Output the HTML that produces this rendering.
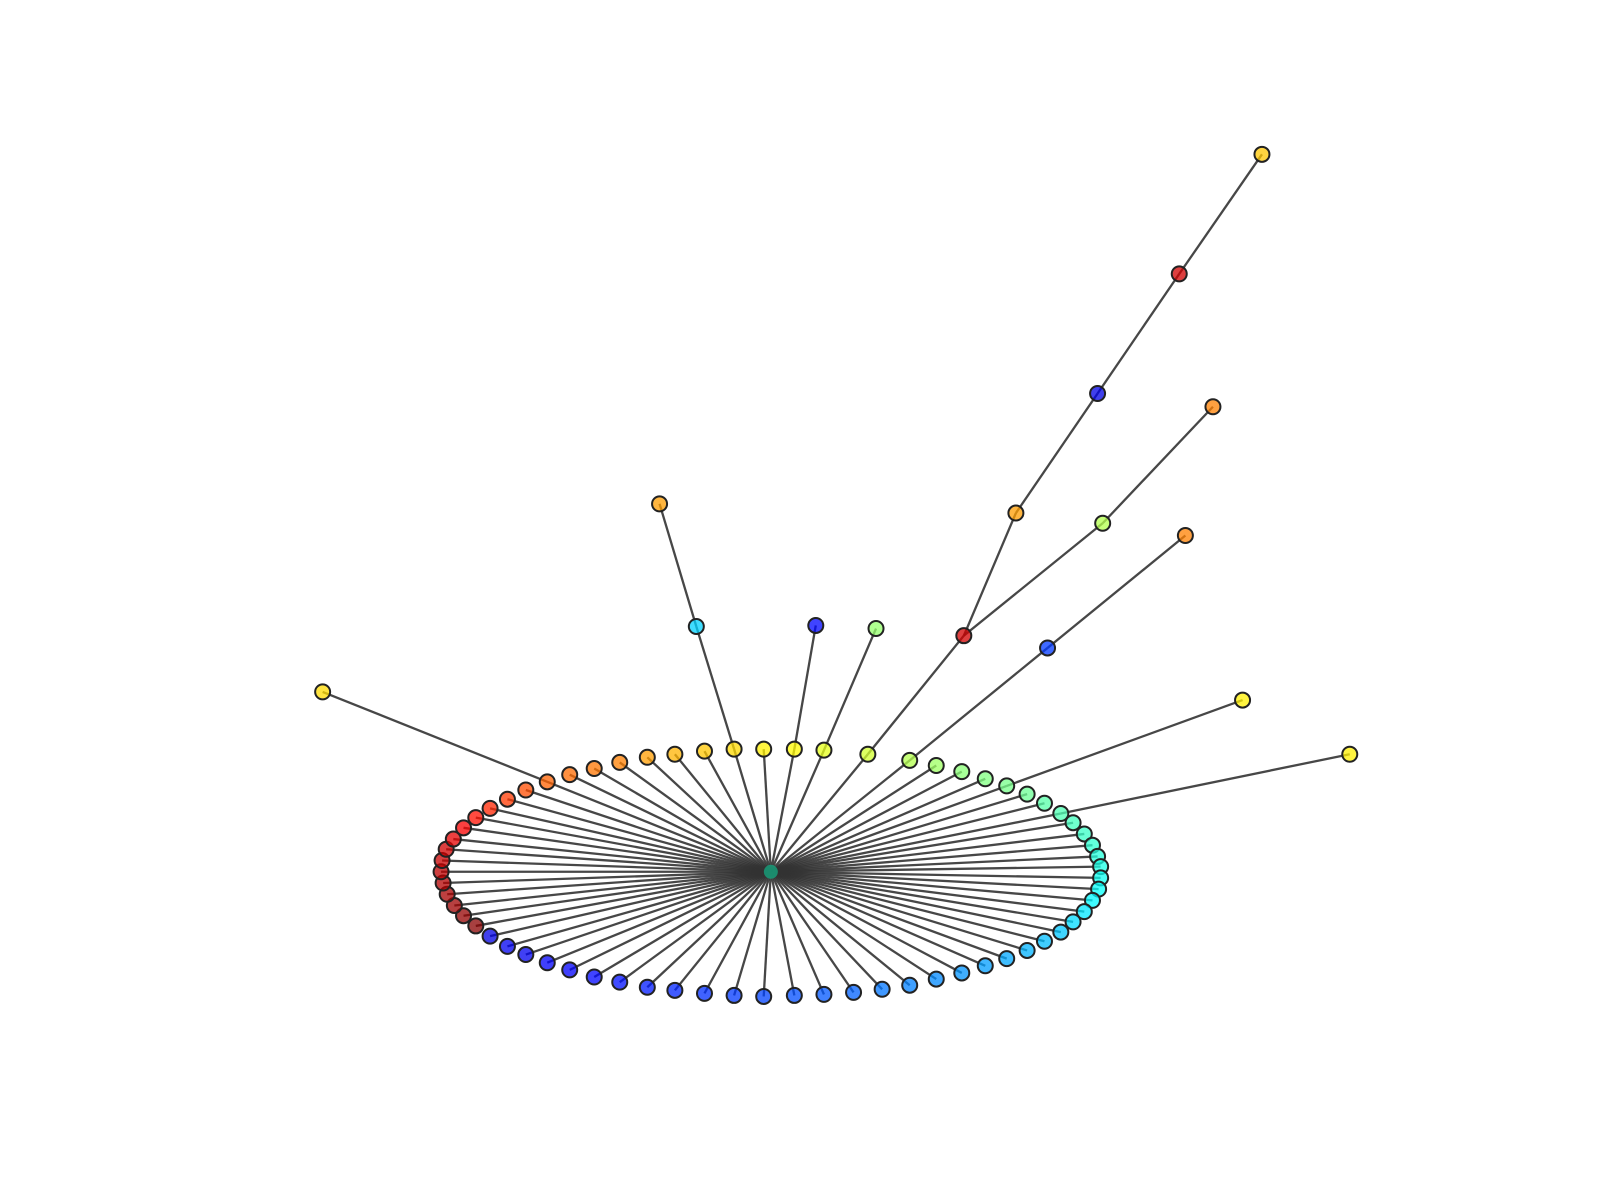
<!DOCTYPE html>
<html><head><meta charset="utf-8"><title>Network graph</title>
<style>html,body{margin:0;padding:0;background:#fff;}svg{display:block;}</style></head>
<body>
<svg id="chart" width="1600" height="1200" viewBox="0 0 1600 1200">
<g id="edges"></g>
<g id="nodes"></g>
</svg>
<script>
// ring node positions (layout units) and color values
const ringX = [536,558,582,607,634,661,690,719,748,778,807,850,891,917,942,965,986,1006,1023,1039,1051,1062,1070,1075,1078,1078,1076,1070,1062,1051,1039,1023,1006,986,965,942,917,891,864,836,807,778,748,719,690,661,634,607,582,558,536,515,497,480,466,454,445,438,434,432,433,437,444,454,466,480,497,515];
const ringY = [765,758,752,746,741,738,735,733,733,733,734,738,744,749,755,762,769,777,786,796,805,816,827,838,848,859,870,881,892,902,912,921,930,938,945,952,958,964,968,971,973,974,975,974,972,969,966,961,956,949,942,934,926,916,906,896,886,875,864,853,842,831,821,810,800,791,782,773];
const ringC = [.78,.77,.76,.75,.72,.70,.68,.66,.64,.63,.60,.58,.55,.53,.51,.50,.49,.48,.46,.45,.44,.43,.42,.41,.40,.39,.38,.37,.35,.34,.32,.31,.30,.29,.28,.27,.26,.25,.24,.22,.21,.20,.19,.18,.17,.16,.15,.14,.13,.12,.12,.11,.11,.10,.99,.98,.97,.96,.95,.94,.93,.92,.90,.88,.86,.84,.82,.80];
// hub
const hubX = 755, hubY = 853;
// outer nodes: positions, colors, parent (ring index as "r#" or outer index as "o#")
const outX = [316,682,646,799,858,944,995,1075,1155,1236,1080,1188,1026,1161,1217,1322];
const outY = [677,613,493,612,615,622,502,385,268,151,512,398,634,524,685,738];
const outC = [.66,.33,.72,.13,.52,.92,.72,.10,.92,.68,.55,.75,.18,.75,.64,.64];
const outParent = ["r0","r7","o1","r9","r10","r11","o5","o6","o7","o8","o5","o10","r12","o12","r16","r19"];

const K = 1.021, KY = 1.022;
function sx(v){return v*K;}
function sy(v){return v*KY;}
function jet(t){
  const c=v=>Math.max(0,Math.min(1,v));
  const r=c(1.5-Math.abs(4*t-3)), g=c(1.5-Math.abs(4*t-2)), b=c(1.5-Math.abs(4*t-1));
  return `rgb(${Math.round(r*255)},${Math.round(g*255)},${Math.round(b*255)})`;
}
const NS='http://www.w3.org/2000/svg';
const eg=document.getElementById('edges'), ng=document.getElementById('nodes');
function line(x1,y1,x2,y2){
  const l=document.createElementNS(NS,'line');
  l.setAttribute('x1',sx(x1));l.setAttribute('y1',sy(y1));l.setAttribute('x2',sx(x2));l.setAttribute('y2',sy(y2));
  l.setAttribute('stroke','#333');l.setAttribute('stroke-opacity','0.9');l.setAttribute('stroke-width','2.3');
  
  
  eg.appendChild(l);
}
function node(x,y,fill,r,stroke,name){
  const c=document.createElementNS(NS,'circle');
  c.setAttribute('cx',sx(x));c.setAttribute('cy',sy(y));c.setAttribute('r',r);
  c.setAttribute('fill',fill);c.setAttribute('fill-opacity','0.75');
  if(stroke){c.setAttribute('stroke','#222');c.setAttribute('stroke-width','2');}
  
  
  ng.appendChild(c);
}
for(let i=0;i<ringX.length;i++) line(hubX,hubY,ringX[i],ringY[i]);
for(let i=0;i<outX.length;i++){
  const p=outParent[i], idx=parseInt(p.slice(1));
  const px=p[0]==='r'?ringX[idx]:outX[idx], py=p[0]==='r'?ringY[idx]:outY[idx];
  line(px,py,outX[i],outY[i]);
}
for(let i=0;i<ringX.length;i++) node(ringX[i],ringY[i],jet(ringC[i]),7.5,true,'ring-node');
for(let i=0;i<outX.length;i++) node(outX[i],outY[i],jet(outC[i]),7.5,true,'outer-node');
node(hubX,hubY,'rgb(20,170,130)',7,false,'hub-node');
</script>
</body></html>
